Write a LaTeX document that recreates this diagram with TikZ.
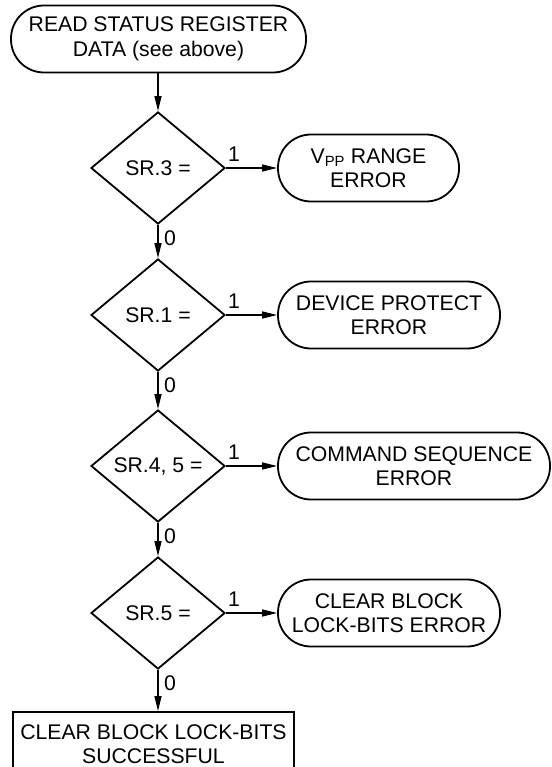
\documentclass[tikz,border=0pt]{standalone}
\usepackage{fontspec}
\setmainfont{Liberation Sans}
\usetikzlibrary{shapes.geometric,arrows.meta}
\begin{document}
\begin{tikzpicture}[x=1pt,y=-1pt,
  every node/.style={font=\fontsize{21.2}{24.5}\selectfont, align=center, inner sep=0pt},
  term/.style={draw, line width=1.8pt, rounded corners=33pt, minimum height=67pt},
  dec/.style={draw, diamond, line width=1.8pt, minimum width=134pt, minimum height=112pt},
  proc/.style={draw, rectangle, line width=1.8pt, minimum height=64pt},
  conn/.style={line width=1.2pt, -{Triangle[length=15pt,width=7pt]}},
  lbl/.style={font=\fontsize{21.2}{24.5}\selectfont}
]
\useasboundingbox (0,0) rectangle (551,767);
\node[term, minimum width=295pt] (start) at (158.5,39) {READ STATUS REGISTER\\DATA (see above)};
\node[dec] (d1) at (158,168) {SR.3 =};
\node[dec] (d2) at (158,315) {SR.1 =};
\node[dec] (d3) at (158,466) {SR.4, 5 =};
\node[dec] (d4) at (158,613) {SR.5 =};
\node[term, minimum width=181pt] (e1) at (368.5,168) {V\textsubscript{PP} RANGE\\ERROR};
\node[term, minimum width=222pt] (e2) at (389,315) {DEVICE PROTECT\\ERROR};
\node[term, minimum width=272pt] (e3) at (414,466) {COMMAND SEQUENCE\\ERROR};
\node[term, minimum width=222pt] (e4) at (389,613) {CLEAR BLOCK\\LOCK-BITS ERROR};
\node[proc, minimum width=281pt] (fin) at (153.5,744) {CLEAR BLOCK LOCK-BITS\\SUCCESSFUL};
\draw[conn] (start.south -| d1.north) -- (d1.north);
\foreach \a/\b in {d1/d2,d2/d3,d3/d4} {
  \draw[conn] (\a.south) -- (\b.north);
  \node[lbl, anchor=west] at ([xshift=6pt,yshift=-13pt]\a.south) {0};
}
\draw[conn] (d4.south) -- (d4.south |- fin.north);
\node[lbl, anchor=west] at ([xshift=6pt,yshift=-13pt]d4.south) {0};
\foreach \a/\b in {d1/e1,d2/e2,d3/e3,d4/e4} {
  \draw[conn] (\a.east) -- (\b.west);
  \node[lbl, anchor=west] at ([xshift=2pt,yshift=14pt]\a.east) {1};
}
\end{tikzpicture}
\end{document}
